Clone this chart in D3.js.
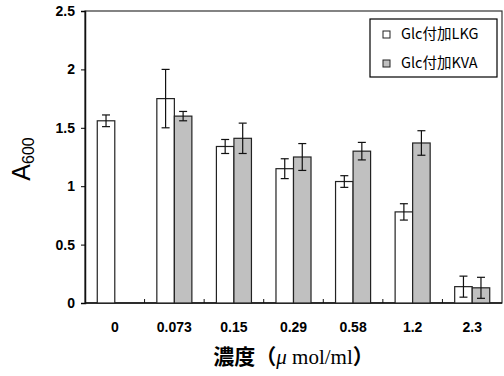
<!DOCTYPE html>
<html>
<head>
<meta charset="utf-8">
<script src="https://cdn.jsdelivr.net/npm/d3@7"></script>
<style>
  body { margin: 0; background: #fff; }
  svg { display: block; }
</style>
</head>
<body>
<div id="wrapper"></div>
<script>
const categories = ["0", "0.073", "0.15", "0.29", "0.58", "1.2", "2.3"];
const seriesNames = ["Glc付加LKG", "Glc付加KVA"];
const lkgValues = [1.56, 1.75, 1.34, 1.15, 1.04, 0.78, 0.14];
const lkgErrors = [0.05, 0.25, 0.06, 0.085, 0.05, 0.07, 0.09];
const kvaValues = [null, 1.60, 1.41, 1.25, 1.30, 1.37, 0.13];
const kvaErrors = [null, 0.04, 0.13, 0.115, 0.075, 0.105, 0.09];
const yTicks = [0, 0.5, 1, 1.5, 2, 2.5];

const dimension = {
    width: 504,
    height: 376,
    margin: { top: 11, left: 85, bottom: 73, right: 2 }
};
dimension.boundedWidth = dimension.width - dimension.margin.left - dimension.margin.right;
dimension.boundedHeight = dimension.height - dimension.margin.top - dimension.margin.bottom;

const svg = d3.select("#wrapper").append("svg")
    .attr("width", dimension.width)
    .attr("height", dimension.height);

const bounded = svg.append("g")
    .attr("transform", `translate(${dimension.margin.left},${dimension.margin.top})`);

const xScaler = d3.scaleBand()
    .domain(categories)
    .range([0, dimension.boundedWidth]);

const subScaler = d3.scaleBand()
    .domain([0, 1])
    .range([0, xScaler.bandwidth()])
    .paddingInner(0)
    .paddingOuter(0.7);

const yScaler = d3.scaleLinear()
    .domain([0, 2.5])
    .range([dimension.boundedHeight, 0]);

// frame
bounded.append("rect")
    .attr("width", dimension.boundedWidth)
    .attr("height", dimension.boundedHeight)
    .attr("fill", "none")
    .attr("stroke", "#333")
    .attr("stroke-width", 1.2);

// y axis
const yAxis = bounded.append("g")
    .call(d3.axisLeft(yScaler).tickValues(yTicks).tickSize(4).tickFormat(d3.format("")));
yAxis.select(".domain").attr("stroke", "#111").attr("stroke-width", 1.5);
yAxis.selectAll("text")
    .attr("x", -10)
    .style("font-family", "Liberation Sans, Arial, sans-serif")
    .style("font-weight", "bold")
    .style("font-size", "14px")
    .attr("fill", "#000");

// x axis: ticks between groups pointing inward
const xAxis = bounded.append("g")
    .attr("transform", `translate(0,${dimension.boundedHeight})`);
xAxis.append("line")
    .attr("x1", 0).attr("x2", dimension.boundedWidth)
    .attr("stroke", "#111").attr("stroke-width", 1.5);
xAxis.selectAll(".tk")
    .data(categories.slice(1))
    .join("line")
    .attr("x1", d => xScaler(d)).attr("x2", d => xScaler(d))
    .attr("y1", 0).attr("y2", -4)
    .attr("stroke", "#111");
xAxis.selectAll(".lbl")
    .data(categories)
    .join("text")
    .attr("x", d => xScaler(d) + xScaler.bandwidth() / 2)
    .attr("y", 29)
    .attr("text-anchor", "middle")
    .style("font-family", "Liberation Sans, Arial, sans-serif")
    .style("font-weight", "bold")
    .style("font-size", "14px")
    .text(d => d);

// bars
const barData = [];
categories.forEach((c, i) => {
    barData.push({ cat: c, s: 0, v: lkgValues[i], e: lkgErrors[i] });
    if (kvaValues[i] != null) barData.push({ cat: c, s: 1, v: kvaValues[i], e: kvaErrors[i] });
});

bounded.selectAll(".bar")
    .data(barData)
    .join("rect")
    .attr("x", d => xScaler(d.cat) + subScaler(d.s))
    .attr("width", subScaler.bandwidth())
    .attr("y", d => yScaler(d.v))
    .attr("height", d => yScaler(0) - yScaler(d.v))
    .attr("fill", d => d.s === 0 ? "#fff" : "#c0c0c0")
    .attr("stroke", "#222")
    .attr("stroke-width", 1.2);

// error bars
const errG = bounded.selectAll(".err")
    .data(barData)
    .join("g")
    .attr("transform", d => `translate(${xScaler(d.cat) + subScaler(d.s) + subScaler.bandwidth() / 2},0)`)
    .attr("stroke", "#111")
    .attr("stroke-width", 1.2);
errG.append("line")
    .attr("y1", d => yScaler(d.v + d.e))
    .attr("y2", d => yScaler(d.v - d.e));
errG.append("line")
    .attr("x1", -4).attr("x2", 4)
    .attr("y1", d => yScaler(d.v + d.e))
    .attr("y2", d => yScaler(d.v + d.e));
errG.append("line")
    .attr("x1", -4).attr("x2", 4)
    .attr("y1", d => yScaler(d.v - d.e))
    .attr("y2", d => yScaler(d.v - d.e));

// legend
const legend = svg.append("g").attr("transform", "translate(370,19)");
legend.append("rect")
    .attr("width", 127).attr("height", 58)
    .attr("fill", "#fff").attr("stroke", "#000").attr("stroke-width", 1.2);
const legItem = legend.selectAll(".li")
    .data(seriesNames)
    .join("g")
    .attr("transform", (d, i) => `translate(0,${15 + i * 29})`);
legItem.append("rect")
    .attr("x", 13).attr("y", -3).attr("width", 7).attr("height", 7)
    .attr("fill", (d, i) => i === 0 ? "#fff" : "#c0c0c0")
    .attr("stroke", "#222");
legItem.append("text")
    .attr("x", 31).attr("y", 5)
    .style("font-family", "Noto Sans CJK JP, sans-serif")
    .style("font-size", "14.5px")
    .text(d => d);

// axis titles
const yTitle = svg.append("text")
    .attr("transform", `translate(30,${dimension.margin.top + dimension.boundedHeight / 2 + 2}) rotate(-90)`)
    .attr("text-anchor", "middle")
    .style("font-family", "Liberation Sans, Arial, sans-serif")
    .style("font-size", "25px");
yTitle.append("tspan").text("A");
yTitle.append("tspan").attr("dy", 4).style("font-size", "16px").text("600");

const xTitle = svg.append("text")
    .attr("x", dimension.margin.left + dimension.boundedWidth / 2)
    .attr("y", 364)
    .attr("text-anchor", "middle")
    .style("font-size", "21px");
xTitle.append("tspan")
    .style("font-family", "Noto Sans CJK JP, sans-serif")
    .style("font-weight", "bold")
    .text("濃度（");
xTitle.append("tspan")
    .style("font-family", "Liberation Serif, Times New Roman, serif")
    .style("font-style", "italic")
    .text("μ");
xTitle.append("tspan")
    .style("font-family", "Liberation Serif, Times New Roman, serif")
    .text(" mol/ml");
xTitle.append("tspan")
    .style("font-family", "Noto Sans CJK JP, sans-serif")
    .style("font-weight", "bold")
    .text("）");
</script>
</body>
</html>
